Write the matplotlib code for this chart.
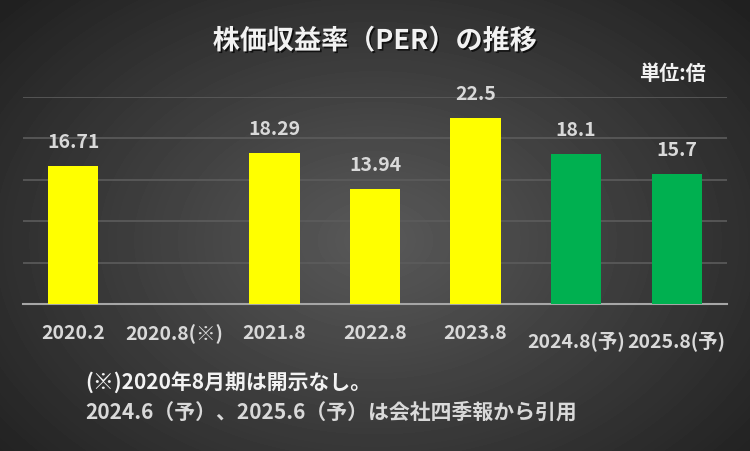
import numpy as np
import matplotlib.pyplot as plt
import matplotlib.patheffects as pe
import matplotlib.transforms as mtrans

plt.rcParams['font.family'] = ['Noto Sans CJK JP', 'DejaVu Sans']

# data
periods = ["2020.2", "2020.8(※)", "2021.8", "2022.8", "2023.8", "2024.8(予)", "2025.8(予)"]
per = [16.71, np.nan, 18.29, 13.94, 22.5, 18.1, 15.7]
per_labels = ["16.71", "", "18.29", "13.94", "22.5", "18.1", "15.7"]
forecast = [False, False, False, False, False, True, True]

fig = plt.figure(figsize=(7.5, 4.51), dpi=100)

# radial gradient background
bg = fig.add_axes([0, 0, 1, 1])
yy, xx = np.mgrid[0:451, 0:750]
r = np.sqrt(((xx - 375) / 470) ** 2 + ((yy - 240) / 330) ** 2)
shade = np.clip(0.35 - 0.21 * r, 0.13, 0.35)
bg.imshow(shade, cmap="gray", vmin=0, vmax=1, aspect="auto", extent=[0, 750, 451, 0])
bg.set_axis_off()

ax = fig.add_axes([23 / 750, 1 - 304 / 451, 704 / 750, 207 / 451])
ax.set_facecolor("none")
x = np.arange(len(periods))
colors = ["#00b050" if f else "#ffff00" for f in forecast]
ax.bar(x, np.nan_to_num(per), width=0.5, color=colors, zorder=3)
for xi, v, lab in zip(x, per, per_labels):
    if lab:
        ax.annotate(lab, (xi, v), xytext=(0, 10), textcoords="offset points",
                    ha="center", va="bottom", fontsize=14, fontweight="bold",
                    color="#d9d9d9")

ax.set_xlim(-0.5, len(periods) - 0.5)
ax.set_ylim(0, 25)
ax.set_yticks(np.arange(0, 26, 5))
ax.yaxis.grid(True, color="#5c5c5c", linewidth=1.2, zorder=0)
ax.tick_params(left=False, labelleft=False, bottom=False)
ax.set_xticks(x)
ax.set_xticklabels(periods, fontsize=14, fontweight="bold", color="#d9d9d9")
ax.tick_params(axis="x", pad=11)
for lbl in ax.get_xticklabels():
    if "予" in lbl.get_text():
        lbl.set_transform(lbl.get_transform() +
                          mtrans.ScaledTranslation(0, -5 / 72, fig.dpi_scale_trans))
for s in ["top", "left", "right"]:
    ax.spines[s].set_visible(False)
ax.spines["bottom"].set_color("#a6a6a6")
ax.spines["bottom"].set_linewidth(1.5)

# title with soft shadow
fig.text(375, 451 - 41, "株価収益率（PER）の推移", transform=None, ha="center", va="center",
         fontsize=19.5, fontweight="bold", color="#f2f2f2",
         path_effects=[pe.withSimplePatchShadow(offset=(1.2, -1.2), shadow_rgbFace="black", alpha=0.7)])
fig.text(706, 451 - 74, "単位:倍", transform=None, ha="right", va="center",
         fontsize=14.5, fontweight="bold", color="#f2f2f2")

fig.text(85, 451 - 383, "(※)2020年8月期は開示なし。", transform=None, ha="left", va="center",
         fontsize=15, fontweight="bold", color="#f2f2f2")
fig.text(85, 451 - 412, "2024.6（予）、2025.6（予）は会社四季報から引用", transform=None,
         ha="left", va="center", fontsize=15, fontweight="bold", color="#d9d9d9")

fig.savefig("out.png", dpi=100)
